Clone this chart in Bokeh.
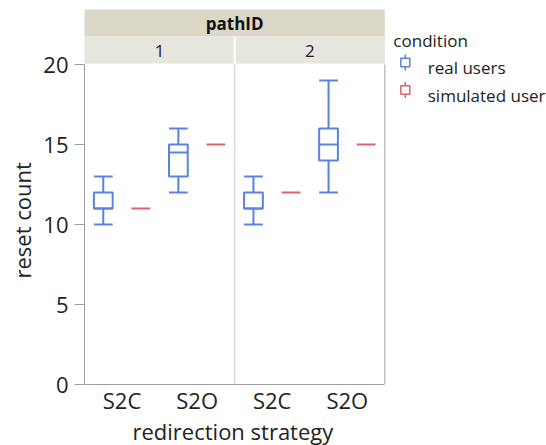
from bokeh.plotting import figure
from bokeh.models import Range1d, FixedTicker, ColumnDataSource, Title
from bokeh.transform import dodge
from bokeh.core.properties import value
from bokeh.embed import file_html
from bokeh.resources import INLINE

# ---- data ----
paths = ["1", "2"]
strategies = ["S2C", "S2O"]
conditions = ["real users", "simulated user"]
facet_title = "pathID"
legend_title = "condition"
# order: (path 1, S2C), (path 1, S2O), (path 2, S2C), (path 2, S2O)
real_low = [10, 12, 10, 12]
real_q1 = [11, 13, 11, 14]
real_median = [11, 14.5, 11, 15]
real_q3 = [12, 15, 12, 16]
real_high = [13, 16, 13, 19]
sim_value = [11, 15, 12, 15]
y_ticks = [0, 5, 10, 15, 20]
y_max = 20

BLUE = "#5a82e4"
RED = "#e0606c"
FONT = "Open Sans"
GRAY = "#a0a0a0"
TXT = "#222222"

n_s = len(strategies)
n_cat = len(paths) * n_s
pos = [i * n_s + j + 0.5 for i in range(len(paths)) for j in range(n_s)]
labels = [s for _ in paths for s in strategies]
src = ColumnDataSource(dict(x=pos, low=real_low, q1=real_q1, med=real_median,
                            q3=real_q3, high=real_high, sim=sim_value))

# ---- layout geometry (canvas pixels) ----
W, H = 546, 445
FL, FB = 83, 384          # frame left / bottom
PR, PT = 384, 64          # right / top edge of the data panels
ux = (PR - FL) / n_cat    # px per category
uy = (FB - PT) / y_max    # px per count


def dx(cx):
    return (cx - FL) / ux


def dy(cy):
    return (FB - cy) / uy


p = figure(width=W, height=H, output_backend="svg", toolbar_location=None,
           x_range=Range1d(0, dx(W)), y_range=Range1d(0, dy(0)),
           min_border_left=FL, min_border_right=0,
           min_border_top=0, min_border_bottom=H - FB)
p.outline_line_color = None
p.grid.visible = False
p.background_fill_color = "white"
p.border_fill_color = "white"

# ---- facet header ----
mid = (FL + PR) / 2
p.quad(left=[dx(82)], right=[dx(PR)], top=[dy(9)], bottom=[dy(36)],
       fill_color="#dbd8c8", line_color=None)
p.quad(left=[dx(82), dx(mid + 1)], right=[dx(mid - 1), dx(PR)],
       top=[dy(36)] * 2, bottom=[dy(PT - 1)] * 2,
       fill_color="#e7e6dc", line_color=None)
p.text(x=[dx(mid)], y=[dy(23)], text=[facet_title], text_align="center",
       text_baseline="middle", text_font=value(FONT), text_font_style="bold",
       text_font_size="17px", text_color="#111111")
p.text(x=[(k + 0.5) * n_s for k in range(len(paths))], y=[dy(50)] * len(paths),
       text=paths, text_align="center", text_baseline="middle",
       text_font=value(FONT), text_font_size="17px", text_color=TXT)

# ---- panel separators ----
p.segment(x0=[n_s], x1=[n_s], y0=[0], y1=[y_max], line_color="#dadada", line_width=1.5)
p.segment(x0=[n_cat], x1=[n_cat], y0=[0], y1=[y_max], line_color=GRAY, line_width=1)

# ---- box plots: real users ----
off = 0.25
hw = 0.125
lw = 2
p.segment(x0=dodge("x", -off), x1=dodge("x", -off), y0="low", y1="q1", source=src,
          line_color=BLUE, line_width=lw)
p.segment(x0=dodge("x", -off), x1=dodge("x", -off), y0="q3", y1="high", source=src,
          line_color=BLUE, line_width=lw)
p.segment(x0=dodge("x", -off - hw), x1=dodge("x", -off + hw), y0="low", y1="low",
          source=src, line_color=BLUE, line_width=lw)
p.segment(x0=dodge("x", -off - hw), x1=dodge("x", -off + hw), y0="high", y1="high",
          source=src, line_color=BLUE, line_width=lw)
p.quad(left=dodge("x", -off - hw), right=dodge("x", -off + hw), bottom="q1", top="q3",
       source=src, fill_color="white", line_color=BLUE, line_width=lw)
p.segment(x0=dodge("x", -off - hw), x1=dodge("x", -off + hw), y0="med", y1="med",
          source=src, line_color=BLUE, line_width=lw)
# ---- simulated user ----
p.segment(x0=dodge("x", off - hw), x1=dodge("x", off + hw), y0="sim", y1="sim",
          source=src, line_color=RED, line_width=lw)

# ---- legend (drawn in the frame, right of the panels) ----
p.text(x=[dx(392.5)], y=[dy(40)], text=[legend_title], text_align="left",
       text_baseline="alphabetic", text_font=value(FONT), text_font_size="17px",
       text_color=TXT)
rows = [62, 89.5]
cols = [BLUE, RED]
p.segment(x0=[dx(404.5)] * 2, x1=[dx(404.5)] * 2, y0=[dy(c - 8) for c in rows],
          y1=[dy(c + 8) for c in rows], line_color=cols, line_width=1.5)
p.quad(left=[dx(400)] * 2, right=[dx(409)] * 2, top=[dy(c - 4.2) for c in rows],
       bottom=[dy(c + 4.2) for c in rows], fill_color="white", line_color=cols,
       line_width=1.5)
p.text(x=[dx(427)] * 2, y=[dy(c + 5) for c in rows], text=conditions, text_align="left",
       text_baseline="alphabetic", text_font=value(FONT), text_font_size="17px",
       text_color=TXT)

# ---- axes ----
p.yaxis.bounds = (0, y_max)
p.yaxis.ticker = FixedTicker(ticks=y_ticks)
p.yaxis.axis_line_color = GRAY
p.yaxis.major_tick_line_color = GRAY
p.yaxis.major_tick_out = 10
p.yaxis.major_tick_in = 0
p.yaxis.minor_tick_line_color = None
p.yaxis.major_label_standoff = 6
p.yaxis.major_label_text_font = FONT
p.yaxis.major_label_text_font_size = "22px"
p.yaxis.major_label_text_color = TXT

p.xaxis.bounds = (0, n_cat)
p.xaxis.ticker = FixedTicker(ticks=pos)
p.xaxis.major_label_overrides = {x: s for x, s in zip(pos, labels)}
p.xaxis.axis_line_color = GRAY
p.xaxis.major_tick_line_color = None
p.xaxis.major_tick_out = 0
p.xaxis.major_tick_in = 0
p.xaxis.minor_tick_line_color = None
p.xaxis.major_label_standoff = 0
p.xaxis.major_label_text_font = FONT
p.xaxis.major_label_text_font_size = "22px"
p.xaxis.major_label_text_color = TXT

# axis titles, placed along the data panels
yt = Title(text="reset count", align="left", offset=106, standoff=8,
           text_font=FONT, text_font_size="22px", text_font_style="normal",
           text_color=TXT)
p.add_layout(yt, "left")
xt = Title(text="redirection strategy", align="left", offset=48, standoff=-8,
           text_font=FONT, text_font_size="22px", text_font_style="normal",
           text_color=TXT)
p.add_layout(xt, "below")

open("out.html", "w").write(file_html(p, INLINE))
